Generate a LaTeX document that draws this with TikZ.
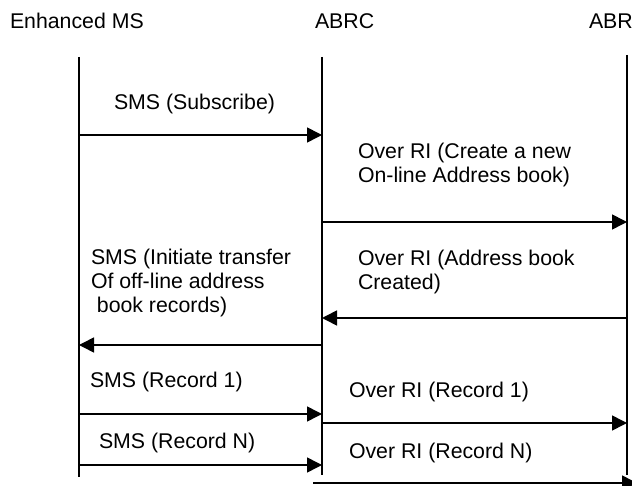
\documentclass[tikz,border=0pt]{standalone}
\usepackage{fontspec}
\setmainfont{Liberation Sans}
\usetikzlibrary{arrows.meta}
\begin{document}
\begin{tikzpicture}[x=1pt,y=-1pt,
  every node/.style={inner sep=0pt,outer sep=0pt,font=\fontsize{21.3}{24.3}\selectfont},
  header/.style={anchor=base west},
  msglabel/.style={anchor=base west,align=left},
  lifeline/.style={line width=1.8pt},
  msg/.style={line width=1.6pt,-{Triangle[length=15pt,width=15pt]}}]
\useasboundingbox (0,0) rectangle (632,486);
\clip (0,0) rectangle (632,486);

% participants
\node[header] (hms)   at (10,29)  {Enhanced MS};
\node[header] (habrc) at (315,29) {ABRC};
\node[header] (habr)  at (589,29) {ABR};

% lifelines
\coordinate (msT)   at (79,57);  \coordinate (msB)   at (79,477);
\coordinate (abrcT) at (322,57); \coordinate (abrcB) at (322,475);
\coordinate (abrT)  at (627,55); \coordinate (abrB)  at (627,475);
\draw[lifeline] (msT) -- (msB);
\draw[lifeline] (abrcT) -- (abrcB);
\draw[lifeline] (abrT) -- (abrB);

% message end points
\coordinate (m1a) at (79,135);  \coordinate (m1b) at (322,135);
\coordinate (m2a) at (322,222); \coordinate (m2b) at (627,222);
\coordinate (m3a) at (627,318); \coordinate (m3b) at (322,318);
\coordinate (m4a) at (322,345); \coordinate (m4b) at (79,345);
\coordinate (m5a) at (79,414);  \coordinate (m5b) at (322,414);
\coordinate (m6a) at (322,423); \coordinate (m6b) at (627,423);
\coordinate (m7a) at (79,465);  \coordinate (m7b) at (322,465);
\coordinate (m8a) at (313,483); \coordinate (m8b) at (637,483);

% messages
\draw[msg] (m1a) -- (m1b);
\draw[msg] (m2a) -- (m2b);
\draw[msg] (m3a) -- (m3b);
\draw[msg] (m4a) -- (m4b);
\draw[msg] (m5a) -- (m5b);
\draw[msg] (m6a) -- (m6b);
\draw[msg] (m7a) -- (m7b);
\draw[msg] (m8a) -- (m8b);

% message labels (base anchor sits on the last line)
\node[msglabel] (l1) at (114,110) {SMS (Subscribe)};
\node[msglabel] (l2) at (358,183) {Over RI (Create a new\\On-line Address book)};
\node[msglabel] (l3) at (358,290) {Over RI (Address book\\Created)};
\node[msglabel] (l4) at (91,313)  {SMS (Initiate transfer\\Of off-line address\\\ book records)};
\node[msglabel] (l5) at (90,387)  {SMS (Record 1)};
\node[msglabel] (l6) at (349,397) {Over RI (Record 1)};
\node[msglabel] (l7) at (99,448)  {SMS (Record N)};
\node[msglabel] (l8) at (349,458) {Over RI (Record N)};
\end{tikzpicture}
\end{document}
